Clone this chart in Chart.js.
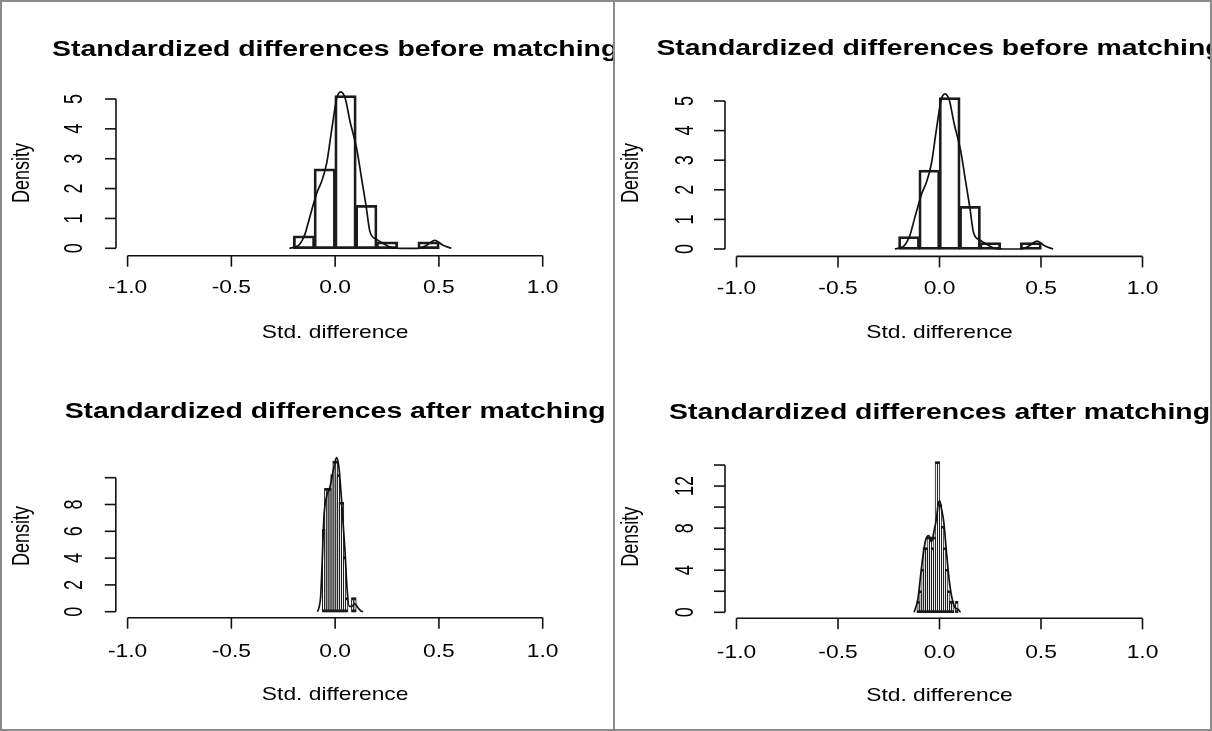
<!DOCTYPE html>
<html>
<head>
<meta charset="utf-8">
<script src="https://cdn.jsdelivr.net/npm/chart.js@4.4.1/dist/chart.umd.min.js"></script>
<style>
  html, body { margin: 0; padding: 0; background: #fff; }
  #page { position: relative; width: 1212px; height: 731px; overflow: hidden; }
  canvas { position: absolute; }
  .frame { position: absolute; box-sizing: border-box; pointer-events: none; }
</style>
</head>
<body>
<div id="page">
  <canvas id="tl" width="613" height="365" style="left:0;top:0"></canvas>
  <canvas id="bl" width="613" height="366" style="left:0;top:365px"></canvas>
  <canvas id="tr" width="597" height="365" style="left:615px;top:0"></canvas>
  <canvas id="br" width="597" height="366" style="left:615px;top:365px"></canvas>
  <div class="frame" style="left:0;top:0;width:1212px;height:731px;border:2px solid #8c8c8c"></div>
  <div class="frame" style="left:613px;top:0;width:2px;height:731px;background:#8c8c8c"></div>
</div>
<script>
// ---- data ----
const titleBefore = "Standardized differences before matching";
const titleAfter = "Standardized differences after matching";
const xTitle = "Std. difference";
const yTitle = "Density";

const xTicks = [-1, -0.5, 0, 0.5, 1];
const xTickLabels = ["-1.0", "-0.5", "0.0", "0.5", "1.0"];

// before matching (same in both panels)
const beforeEdges = [-0.2, -0.1, 0, 0.1, 0.2, 0.3, 0.4, 0.5];
const beforeDensity = [0.408, 2.653, 5.102, 1.429, 0.204, 0, 0.204];
const beforeCurveX = [-0.22, -0.19, -0.176, -0.16, -0.144, -0.128, -0.112, -0.088, -0.064, -0.04, -0.016, 0.008, 0.027, 0.048, 0.072, 0.104, 0.128, 0.149, 0.168, 0.2, 0.232, 0.28, 0.32, 0.4, 0.44, 0.48, 0.52, 0.56];
const beforeCurveY = [0, 0.05, 0.1, 0.25, 0.5, 0.9, 1.3, 1.86, 2.26, 2.88, 4.0, 5.03, 5.24, 5.03, 4.24, 3.33, 2.31, 1.42, 0.55, 0.3, 0.16, 0.01, 0, 0, 0.1, 0.27, 0.1, 0];
const beforeYTicks = [0, 1, 2, 3, 4, 5];
const beforeYLabels = ["0", "1", "2", "3", "4", "5"];

// after matching, left panel
const afterLEdges = [-0.06, -0.05, -0.04, -0.03, -0.02, -0.01, 0, 0.01, 0.02, 0.03, 0.04, 0.05, 0.06, 0.07, 0.08, 0.09, 0.1];
const afterLDensity = [6.12, 9.18, 9.18, 9.18, 10.2, 11.22, 11.22, 10.2, 8.16, 8.16, 4.08, 1.02, 0, 0, 1.02, 1.02];
const afterLCurveX = [-0.085, -0.078, -0.07, -0.062, -0.054, -0.041, -0.025, -0.012, 0, 0.007, 0.018, 0.031, 0.047, 0.058, 0.068, 0.08, 0.095, 0.11, 0.125, 0.135];
const afterLCurveY = [0, 0.3, 1.1, 3.9, 7.1, 8.6, 9.3, 10.3, 11.2, 11.5, 10.8, 8.3, 4.6, 1.6, 0.4, 0.4, 0.6, 0.3, 0.05, 0];
const afterLYTicks = [0, 2, 4, 6, 8, 10];
const afterLYLabels = ["0", "2", "4", "6", "8", ""];

// after matching, right panel
const afterREdges = [-0.11, -0.1, -0.09, -0.08, -0.07, -0.06, -0.05, -0.04, -0.03, -0.02, -0.01, 0, 0.01, 0.02, 0.03, 0.04, 0.05, 0.06, 0.07, 0.08, 0.09];
const afterRDensity = [1.02, 2.04, 4.08, 6.12, 6.12, 7.14, 7.14, 6.12, 7.14, 14.29, 14.29, 10.2, 8.16, 6.12, 4.08, 2.04, 1.02, 1.02, 0, 1.02];
const afterRCurveX = [-0.125, -0.106, -0.093, -0.081, -0.068, -0.053, -0.04, -0.027, -0.015, -0.007, 0.001, 0.009, 0.021, 0.034, 0.047, 0.059, 0.075, 0.09, 0.104];
const afterRCurveY = [0, 1.3, 3.5, 5.4, 6.9, 7.3, 6.7, 7.7, 8.9, 10.2, 10.6, 9.9, 8.6, 5.8, 3.2, 1.6, 0.5, 0.3, 0];
const afterRYTicks = [0, 2, 4, 6, 8, 10, 12, 14];
const afterRYLabels = ["0", "", "4", "", "8", "", "12", ""];

// ---- drawing ----
const FONT = "'Liberation Sans', Arial, Helvetica, sans-serif";
const INK = "#111";

function stretchText(ctx, str, x, y, font, sx, rot) {
  ctx.save();
  ctx.translate(x, y);
  ctx.scale(sx, 1);
  if (rot) ctx.rotate(rot);
  ctx.font = font;
  ctx.textAlign = "center";
  ctx.textBaseline = "middle";
  ctx.fillText(str, 0, 0);
  ctx.restore();
}

// R style axes: lines only between first and last tick, labels parallel to axis
const rAxes = {
  id: "rAxes",
  afterDraw(chart, args, o) {
    const { ctx, chartArea } = chart;
    const x = chart.scales.x, y = chart.scales.y;
    const L = o.layout;
    ctx.save();
    ctx.strokeStyle = INK;
    ctx.fillStyle = "#000";
    ctx.lineWidth = 1.6;
    const seg = (x1, y1, x2, y2) => { ctx.beginPath(); ctx.moveTo(x1, y1); ctx.lineTo(x2, y2); ctx.stroke(); };

    const ax = chartArea.left;
    seg(ax, y.getPixelForValue(o.yTicks[0]), ax, y.getPixelForValue(o.yTicks[o.yTicks.length - 1]));
    o.yTicks.forEach((v, i) => {
      const py = y.getPixelForValue(v);
      seg(ax - 11, py, ax, py);
      if (o.yLabels[i]) stretchText(ctx, o.yLabels[i], L.yTickLabelX, py, "18px " + FONT, 1.45, -Math.PI / 2);
    });

    const ay = chartArea.bottom;
    seg(x.getPixelForValue(xTicks[0]), ay, x.getPixelForValue(xTicks[xTicks.length - 1]), ay);
    xTicks.forEach((v, i) => {
      const px = x.getPixelForValue(v);
      seg(px, ay, px, ay + 11);
      stretchText(ctx, xTickLabels[i], px, L.tickLabelY, "19px " + FONT, 1.2);
    });

    stretchText(ctx, o.title, x.getPixelForValue(0), L.titleY, "bold 22px " + FONT, 1.29);
    stretchText(ctx, xTitle, x.getPixelForValue(0), L.xTitleY, "19px " + FONT, 1.2);
    stretchText(ctx, yTitle, L.yTitleX, L.yTitleY, "18px " + FONT, 1.35, -Math.PI / 2);
    ctx.restore();
  }
};

// pixel frame -> scale limits and padding
function frame(w, h, axisLeft, xMinusOne, xPlusOne, axisBottom, yZero, yUnit, yTop) {
  const ux = (xPlusOne - xMinusOne) / 2;
  const xmin = -1 - (xMinusOne - axisLeft) / ux;
  const xmax = -xmin;
  const right = xPlusOne + (xmax - 1) * ux;
  const ymin = -(axisBottom - yZero) / yUnit;
  const top = yZero - yTop * yUnit;
  return { xmin, xmax, ymin, ymax: yTop, padding: { left: axisLeft, right: w - right, top: top, bottom: h - axisBottom } };
}

function makeChart(id, s) {
  const canvas = document.getElementById(id);
  const f = frame(canvas.width, canvas.height, ...s.frame);
  new Chart(canvas, {
    type: "bar",
    data: {
      datasets: [
        {
          type: "bar",
          data: s.density.map((d, i) => ({ x: (s.edges[i] + s.edges[i + 1]) / 2, y: d })),
          backgroundColor: "rgba(0,0,0,0)",
          borderColor: "#1c1c1c",
          borderWidth: 1.4,
          borderSkipped: false,
          inflateAmount: 0.7,
          barPercentage: 1,
          categoryPercentage: 1,
          order: 2
        },
        {
          type: "line",
          data: s.curveX.map((cx, i) => ({ x: cx, y: s.curveY[i] })),
          borderColor: INK,
          borderWidth: 1.7,
          pointRadius: 0,
          tension: 0.4,
          cubicInterpolationMode: "monotone",
          fill: false,
          order: 1
        }
      ]
    },
    options: {
      responsive: false,
      animation: false,
      devicePixelRatio: 1,
      layout: { padding: f.padding },
      scales: {
        x: { type: "linear", min: f.xmin, max: f.xmax, offset: false, display: false, grid: { offset: false } },
        y: { type: "linear", min: f.ymin, max: f.ymax, display: false }
      },
      plugins: {
        legend: { display: false },
        tooltip: { enabled: false },
        rAxes: { title: s.title, yTicks: s.yTicks, yLabels: s.yLabels, layout: s.layout }
      }
    },
    plugins: [rAxes]
  });
}

makeChart("tl", {
  title: titleBefore, edges: beforeEdges, density: beforeDensity, curveX: beforeCurveX, curveY: beforeCurveY,
  yTicks: beforeYTicks, yLabels: beforeYLabels,
  frame: [116, 127.6, 542.7, 255.7, 248.3, 29.86, 5.5],
  layout: { titleY: 49.5, tickLabelY: 288, xTitleY: 333, yTickLabelX: 75, yTitleX: 22, yTitleY: 173 }
});
makeChart("bl", {
  title: titleAfter, edges: afterLEdges, density: afterLDensity, curveX: afterLCurveX, curveY: afterLCurveY,
  yTicks: afterLYTicks, yLabels: afterLYLabels,
  frame: [115.8, 127.6, 542.7, 252.7, 246.7, 13.4, 12.5],
  layout: { titleY: 46.7, tickLabelY: 286.7, xTitleY: 330, yTickLabelX: 75, yTitleX: 22, yTitleY: 171 }
});
makeChart("tr", {
  title: titleBefore, edges: beforeEdges, density: beforeDensity, curveX: beforeCurveX, curveY: beforeCurveY,
  yTicks: beforeYTicks, yLabels: beforeYLabels,
  frame: [110, 121.5, 527.5, 256.4, 249.0, 29.6, 5.5],
  layout: { titleY: 49, tickLabelY: 289, xTitleY: 333, yTickLabelX: 71, yTitleX: 16, yTitleY: 173 }
});
makeChart("br", {
  title: titleAfter, edges: afterREdges, density: afterRDensity, curveX: afterRCurveX, curveY: afterRCurveY,
  yTicks: afterRYTicks, yLabels: afterRYLabels,
  frame: [110, 121.5, 527.5, 253.3, 247.3, 10.52, 15],
  layout: { titleY: 48.3, tickLabelY: 287.7, xTitleY: 331, yTickLabelX: 71, yTitleX: 16, yTitleY: 171.7 }
});
</script>
</body>
</html>
